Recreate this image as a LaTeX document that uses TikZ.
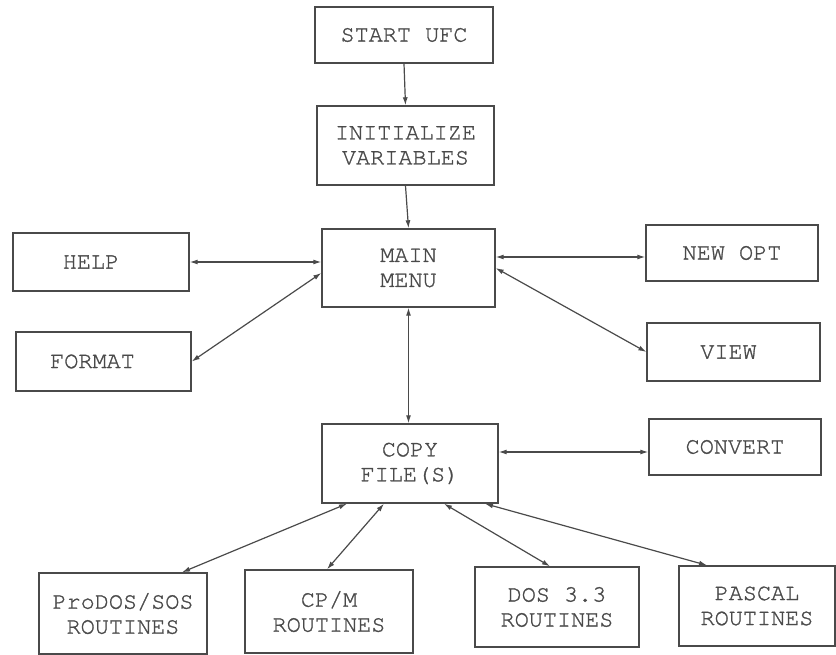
\documentclass[tikz,border=0pt]{standalone}
\usepackage{fontspec}
\newfontfamily\boxfont{TeX Gyre Cursor}[FakeBold=1.2]
\usetikzlibrary{arrows.meta}
\definecolor{ink}{HTML}{4A4A4A}
\definecolor{txt}{HTML}{4A4A4A}
\begin{document}
\begin{tikzpicture}[x=1pt,y=-1pt,
  blk/.style={draw=ink, line width=1.4pt, rectangle, inner sep=0pt, align=center,
    text=txt, font=\boxfont\fontsize{23.5}{25}\selectfont},
  link/.style={draw=ink, line width=1.2pt, {Latex[length=8pt,width=5pt]}-{Latex[length=8pt,width=5pt]}},
  oneway/.style={draw=ink, line width=1.2pt, -{Latex[length=8pt,width=5pt]}}]
\useasboundingbox (0,0) rectangle (836,655);
\node[blk, minimum width=178pt, minimum height=56pt] (start) at (404,35) {START UFC};
\node[blk, minimum width=177pt, minimum height=79pt] (init) at (405.5,145.5) {INITIALIZE\\VARIABLES};
\node[blk, minimum width=173pt, minimum height=78pt] (main) at (408.5,268) {MAIN\\MENU};
\node[blk, minimum width=176pt, minimum height=58pt] (help) at (101,262) {HELP\hspace{20pt}};
\node[blk, minimum width=175pt, minimum height=59pt] (format) at (103.5,361.5) {FORMAT\hspace{22pt}};
\node[blk, minimum width=172pt, minimum height=56pt] (newopt) at (732,253) {NEW OPT};
\node[blk, minimum width=173pt, minimum height=58pt] (view) at (733.5,352) {VIEW\hspace{10pt}};
\node[blk, minimum width=176pt, minimum height=79pt] (copy) at (410,463.5) {COPY\\FILE(S)};
\node[blk, minimum width=172pt, minimum height=56pt] (convert) at (735,447) {CONVERT};
\node[blk, minimum width=168pt, minimum height=81pt] (prodos) at (123,613.5) {ProDOS/SOS\\ROUTINES};
\node[blk, minimum width=168pt, minimum height=83pt] (cpm) at (329,611.5) {CP/M\\ROUTINES};
\node[blk, minimum width=164pt, minimum height=80pt] (dos) at (557,607) {DOS 3.3\\ROUTINES};
\node[blk, minimum width=156pt, minimum height=80pt] (pascal) at (757,606) {PASCAL\\ROUTINES};

\draw[oneway] (start.south) -- (init.north);
\draw[oneway] (init.south) -- (main.north);
\draw[link] (help.east) -- (help.east -| main.west);
\draw[link] (format.east) -- ([yshift=-5pt]main.west);
\draw[link] (main.east |- newopt.west) ++(0,4) -- ([yshift=-4pt]newopt.west);
\draw[link] (main.east) -- (view.west);
\draw[link] (main.south) -- (main.south |- copy.north);
\draw[link] (copy.east |- convert.west) ++(0,5) -- ([yshift=-5pt]convert.west);
\draw[link] ([xshift=-63pt]copy.south) -- ([xshift=59pt]prodos.north);
\draw[link] ([xshift=-26pt]copy.south) -- ([xshift=-2pt]cpm.north);
\draw[link] ([xshift=34pt]copy.south) -- ([xshift=-7pt]dos.north);
\draw[link] ([xshift=75pt]copy.south) -- ([xshift=-50pt]pascal.north);
\end{tikzpicture}
\end{document}
